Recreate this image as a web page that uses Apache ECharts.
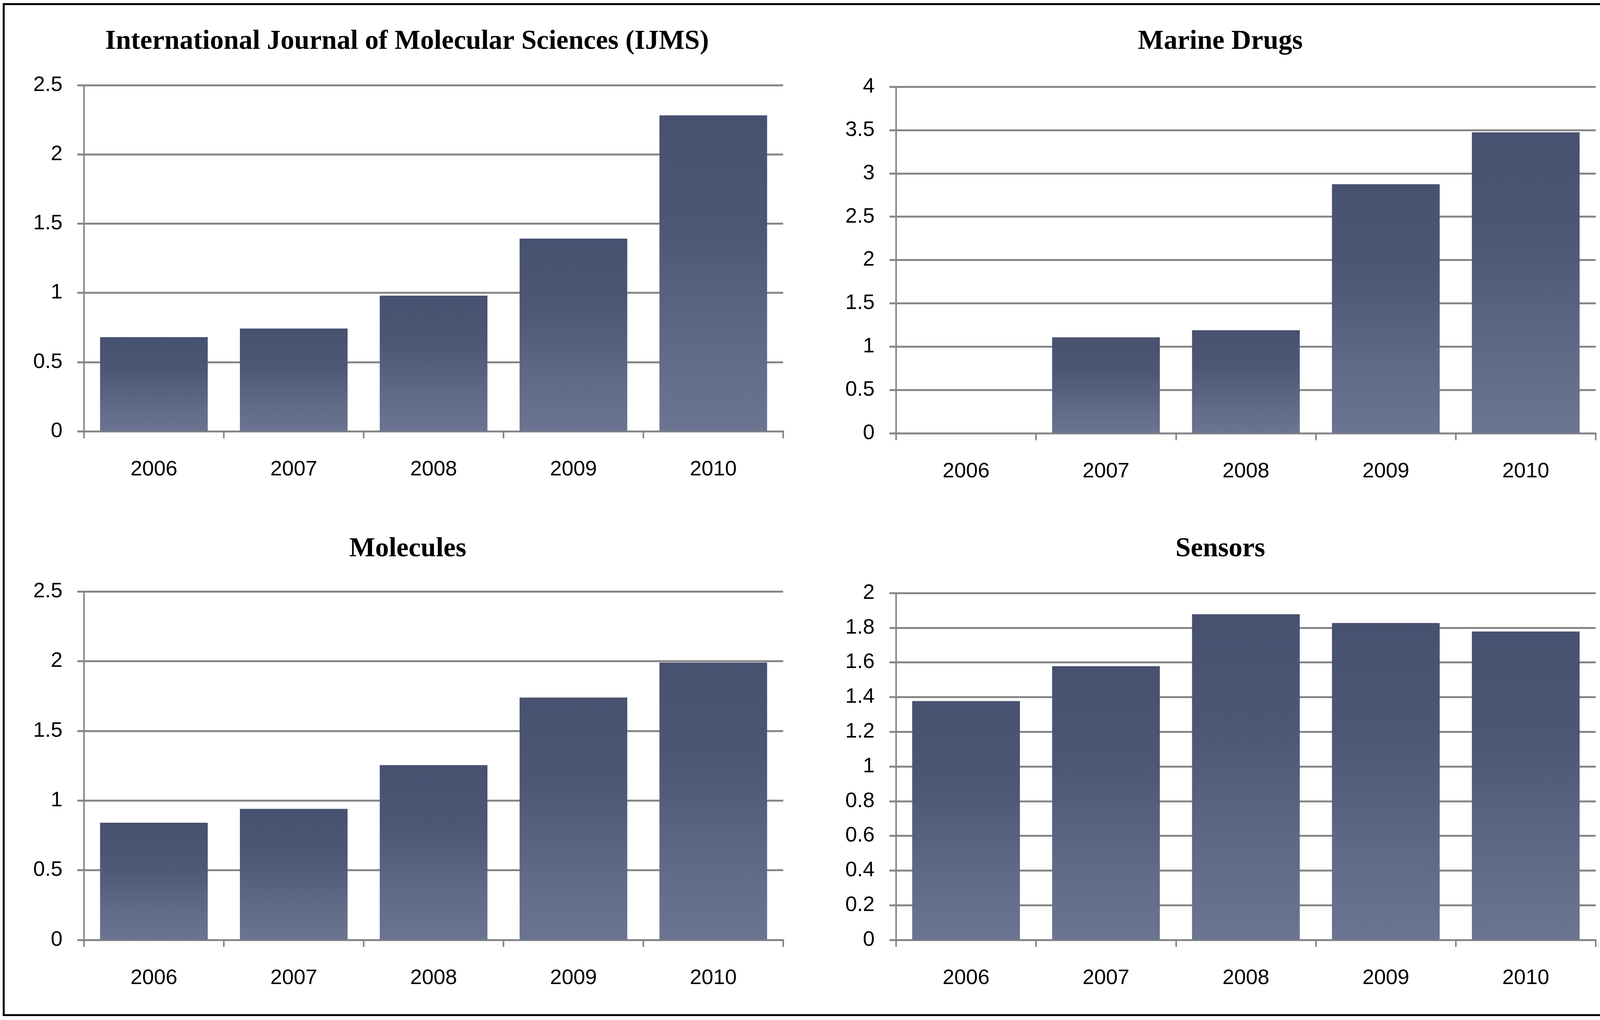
<!DOCTYPE html>
<html>
<head>
<meta charset="utf-8">
<script src="https://cdn.jsdelivr.net/npm/echarts@6/dist/echarts.min.js"></script>
<style>
html,body{margin:0;padding:0;background:#fff;}
#chart{width:4168px;height:2611px;}
</style>
</head>
<body>
<div id="chart"></div>
<script>
// ---- data ----
var years = ['2006', '2007', '2008', '2009', '2010'];
var ijmsValues = [0.68, 0.742, 0.98, 1.392, 2.282];
var marineValues = [0, 1.107, 1.189, 2.875, 3.473];
var moleculesValues = [0.841, 0.94, 1.254, 1.739, 1.99];
var sensorsValues = [1.377, 1.578, 1.878, 1.827, 1.778];
var titles = ['International Journal of Molecular Sciences (IJMS)', 'Marine Drugs', 'Molecules', 'Sensors'];
var yMax = [2.5, 4, 2.5, 2];
var yStep = [0.5, 0.5, 0.5, 0.2];

var chart = echarts.init(document.getElementById('chart'), null, {renderer: 'canvas', devicePixelRatio: 1});

var grayLine = '#878787';
var labelFont = {fontFamily: 'Liberation Sans', fontSize: 54, color: '#000'};

var grids = [
  {left: 215, top: 218, width: 1790, height: 886},
  {left: 2294, top: 222, width: 1791, height: 887},
  {left: 215, top: 1514, width: 1790, height: 892},
  {left: 2294, top: 1518, width: 1791, height: 888}
];
var titleCenters = [[1042, 107], [3124, 107], [1044, 1406], [3124, 1406]];
var seriesData = [ijmsValues, marineValues, moleculesValues, sensorsValues];

var barColor = new echarts.graphic.LinearGradient(0, 0, 0, 1, [
  {offset: 0, color: '#475170'},
  {offset: 0.35, color: '#4d5775'},
  {offset: 0.75, color: '#616b88'},
  {offset: 1, color: '#6b7591'}
]);

var xAxes = [], yAxes = [], series = [], titleOpts = [];
for (var i = 0; i < 4; i++) {
  titleOpts.push({
    text: titles[i],
    left: titleCenters[i][0],
    top: titleCenters[i][1],
    textAlign: 'center',
    textVerticalAlign: 'middle',
    padding: 0,
    textStyle: {fontFamily: 'Liberation Serif', fontWeight: 'bold', fontSize: 70, color: '#000'}
  });
  xAxes.push({
    type: 'category',
    gridIndex: i,
    data: years,
    boundaryGap: true,
    axisLine: {show: true, lineStyle: {color: grayLine, width: 5}},
    axisTick: {show: true, length: 18, lineStyle: {color: grayLine, width: 4}},
    axisLabel: Object.assign({margin: 71}, labelFont),
    splitLine: {show: false}
  });
  yAxes.push({
    type: 'value',
    gridIndex: i,
    min: 0,
    max: yMax[i],
    interval: yStep[i],
    axisLine: {show: true, lineStyle: {color: grayLine, width: 4}},
    axisTick: {show: true, length: 17, lineStyle: {color: grayLine, width: 5}},
    axisLabel: Object.assign({margin: 55}, labelFont),
    splitLine: {show: true, lineStyle: {color: grayLine, width: 5}}
  });
  series.push({
    type: 'bar',
    xAxisIndex: i,
    yAxisIndex: i,
    data: seriesData[i],
    barCategoryGap: '23%',
    itemStyle: {color: barColor},
    emphasis: {disabled: true}
  });
}

chart.setOption({
  backgroundColor: '#fff',
  animation: false,
  title: titleOpts,
  grid: grids,
  xAxis: xAxes,
  yAxis: yAxes,
  series: series,
  graphic: [{
    type: 'rect',
    shape: {x: 9.5, y: 10.5, width: 4143, height: 2588},
    style: {fill: null, stroke: '#000', lineWidth: 5},
    silent: true,
    z: 100
  }]
});
</script>
</body>
</html>
